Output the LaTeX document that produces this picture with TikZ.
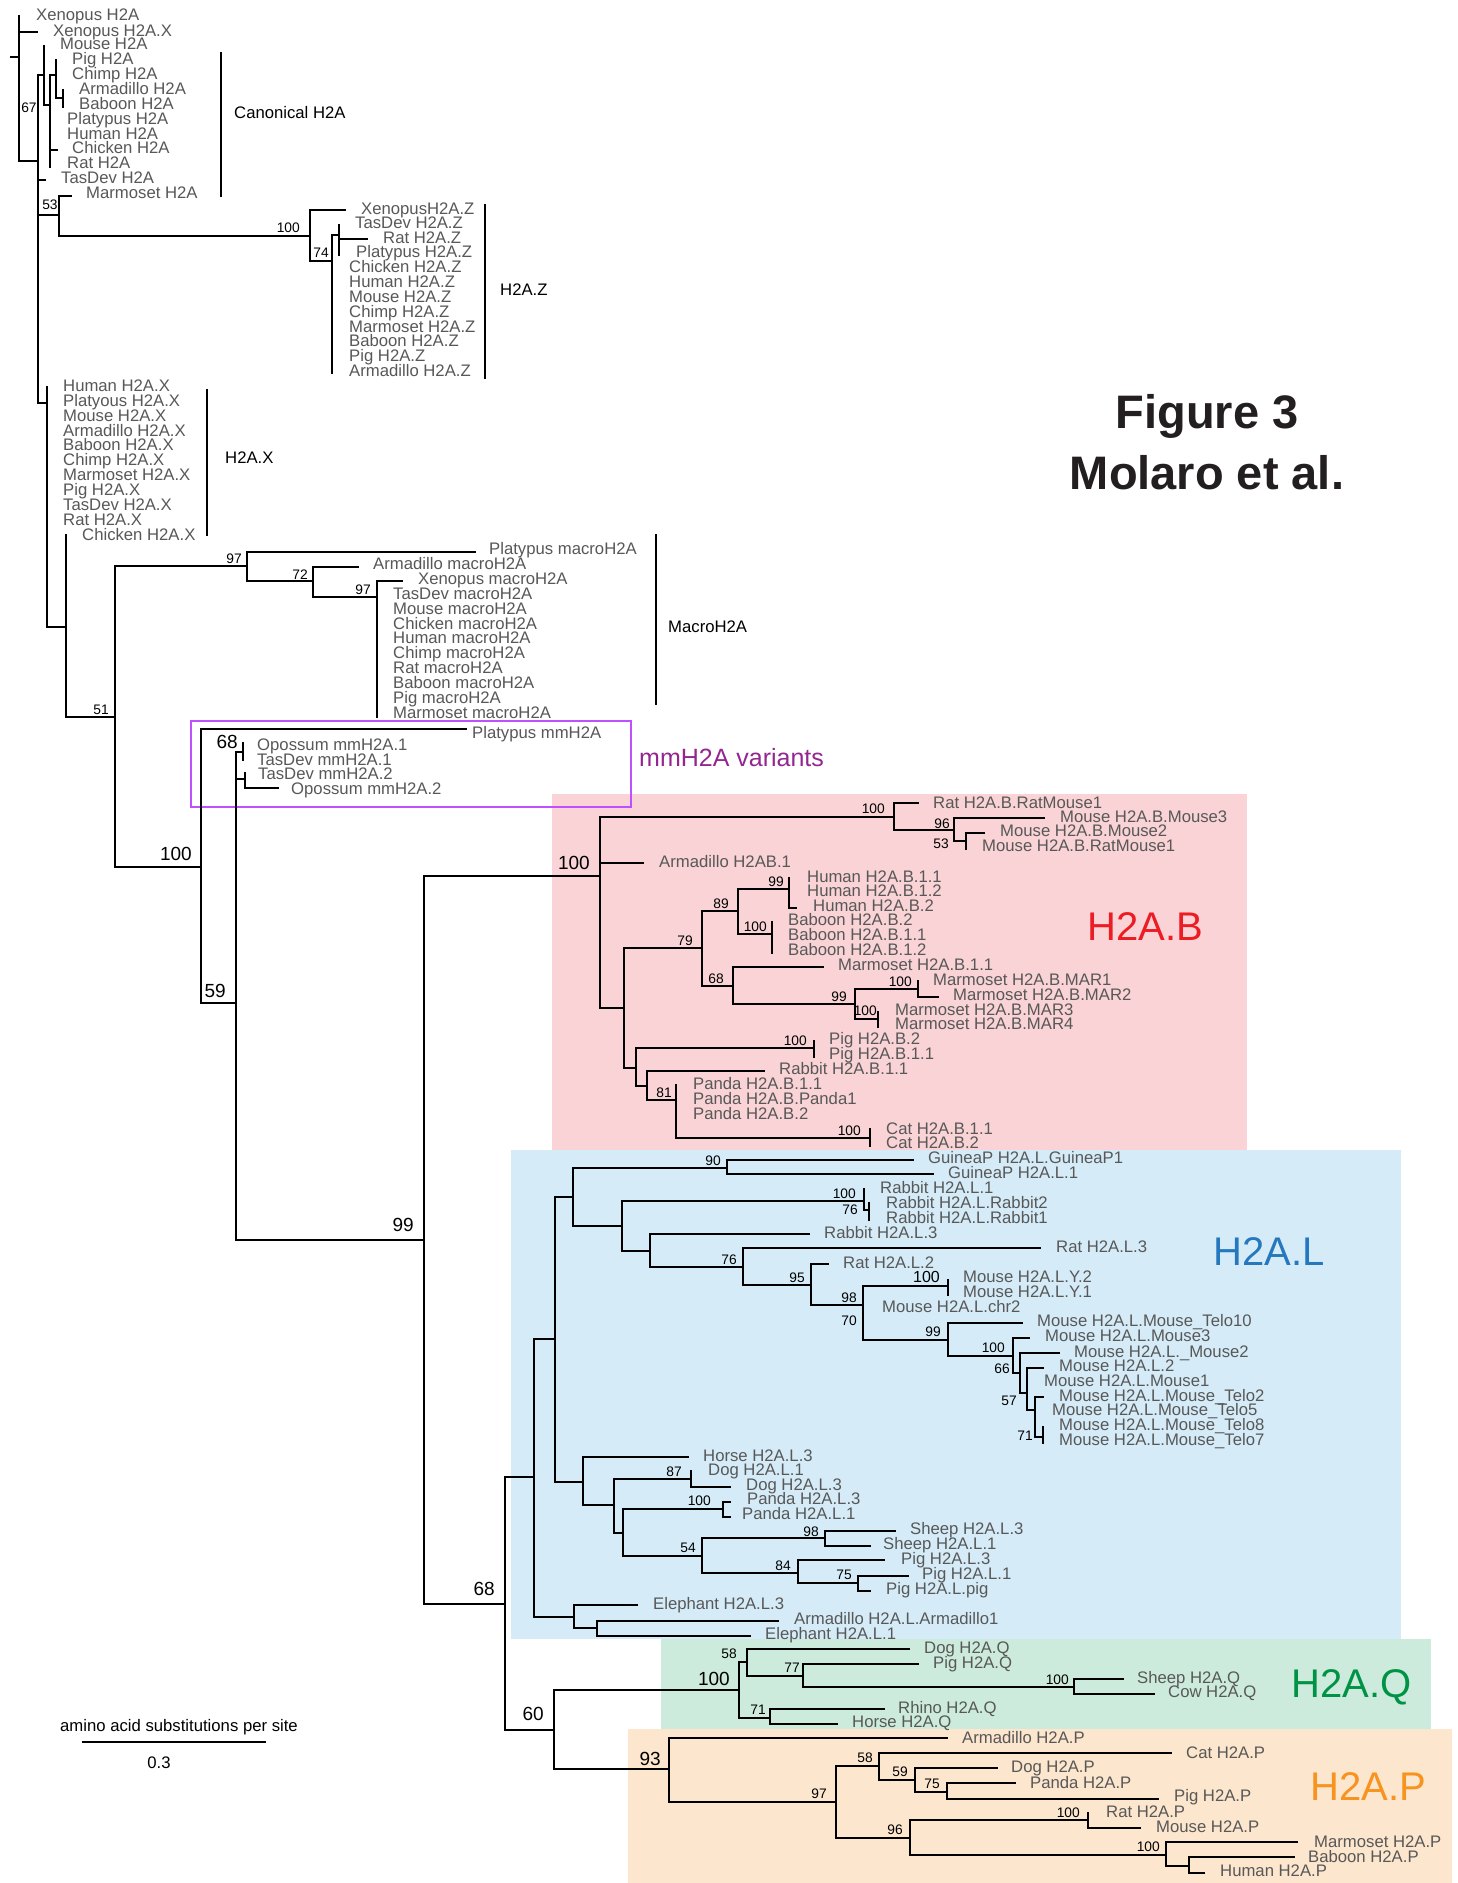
\documentclass[tikz,border=0pt]{standalone}
\usepackage{fontspec}
\setmainfont{Liberation Sans}
\definecolor{tipgray}{RGB}{88,88,88}
\definecolor{bgB}{RGB}{249,211,213}
\definecolor{bgL}{RGB}{213,236,248}
\definecolor{bgQ}{RGB}{205,235,220}
\definecolor{bgP}{RGB}{252,230,205}
\definecolor{colB}{RGB}{237,28,36}
\definecolor{colL}{RGB}{37,120,190}
\definecolor{colQ}{RGB}{0,146,69}
\definecolor{colP}{RGB}{247,147,30}
\definecolor{mmbox}{RGB}{190,80,255}
\definecolor{mmtext}{RGB}{147,39,143}
\definecolor{titlecol}{RGB}{35,31,32}
\tikzset{
  br/.style={line width=2.5pt, line cap=rect, black},
  brack/.style={line width=2.2pt, black},
  tiplab/.style={anchor=base west, inner sep=0pt, yshift=-6pt, text=tipgray, font=\fontsize{16.7}{18}\selectfont},
  bss/.style={anchor=south east, inner sep=0pt, text=black, font=\fontsize{13.8}{15}\selectfont},
  bsl/.style={anchor=south east, inner sep=0pt, text=black, font=\fontsize{19}{21}\selectfont},
  grp/.style={anchor=west, inner sep=0pt, text=black, font=\fontsize{16.7}{18}\selectfont},
  bigl/.style={anchor=west, inner sep=0pt, font=\fontsize{40}{44}\selectfont},
}
\newcommand\HB[3]{\draw[br] (#1,#3) -- (#2,#3);}
\newcommand\VB[3]{\draw[br] (#1,#2) -- (#1,#3);}
\newcommand\TL[3]{\node[tiplab] at (#1,#2) {#3};}
\newcommand\BS[3]{\node[bss] at (#1,#2) {#3};}
\newcommand\BL[3]{\node[bsl] at (#1,#2) {#3};}
\newcommand\BC[3]{\node[bss, anchor=center] at (#1,#2) {#3};}
\newcommand\BE[3]{\node[bss, anchor=east] at (#1,#2) {#3};}
\begin{document}
\begin{tikzpicture}[x=1pt,y=-1pt]
\useasboundingbox (0,0) rectangle (1458,1883);
\fill[white] (0,0) rectangle (1458,1883);
% backgrounds
\fill[bgB] (552,794) rectangle (1247,1150);
\fill[bgL] (511,1150) rectangle (1401,1639);
\fill[bgQ] (661,1639) rectangle (1431,1729);
\fill[bgP] (628,1729) rectangle (1452,1883);
\draw[mmbox, line width=2pt] (191,721) rectangle (631,807);
\node[anchor=west, inner sep=0pt, text=mmtext, font=\fontsize{25}{28}\selectfont] (mmlab) at (639,758) {mmH2A variants};
% big clade labels
\node[bigl, text=colB] (labB) at (1087,927) {H2A.B};
\node[bigl, text=colL] (labL) at (1213,1252) {H2A.L};
\node[bigl, text=colQ] (labQ) at (1291,1687) {H2A.Q};
\node[bigl, text=colP] (labP) at (1310,1787) {H2A.P};
% title
\node[inner sep=0pt, text=titlecol, font=\fontsize{47}{52}\bfseries\selectfont] (t1) at (1207,416) {Figure 3};
\node[inner sep=0pt, text=titlecol, font=\fontsize{47}{52}\bfseries\selectfont] (t2) at (1207,473) {Molaro et al.};
% group brackets and labels
\draw[brack] (221,52) -- (221,197);
\node[grp] (gcan) at (234,113) {Canonical H2A};
\draw[brack] (485,204) -- (485,379);
\node[grp] (gz) at (500,290) {H2A.Z};
\draw[brack] (207,389) -- (207,536);
\node[grp] (gx) at (225,458) {H2A.X};
\draw[brack] (656,534) -- (656,705);
\node[grp] (gm) at (668,627) {MacroH2A};
% scale bar
\node[inner sep=0pt, font=\fontsize{16.7}{18}\selectfont] (sbt) at (179,1727) {amino acid substitutions per site};
\draw[line width=1.8pt] (82,1742) -- (266,1742);
\node[inner sep=0pt, font=\fontsize{16.7}{18}\selectfont] (sbv) at (159,1763) {0.3};

% ===== canonical H2A =====
\HB{11}{19}{57}
\VB{19}{16}{161}
\HB{19}{37}{32}
\HB{19}{38}{161}
\VB{38}{75}{403}
\HB{38}{44}{75}
\VB{44}{46}{105}
\HB{44}{50}{105}
\VB{50}{75}{167}
\HB{50}{56}{75}
\VB{56}{60}{98}
\HB{56}{63}{98}
\VB{63}{90}{107}
\HB{50}{57}{150}
\HB{38}{45}{180}
\HB{38}{59}{215}
\VB{59}{196}{236}
\HB{59}{71}{196}
\BC{50}{205}{53}
\BC{29}{108}{67}
\TL{36}{14}{Xenopus H2A}
\TL{53}{30}{Xenopus H2A.X}
\TL{60}{43}{Mouse H2A}
\TL{72}{58}{Pig H2A}
\TL{72}{73}{Chimp H2A}
\TL{79}{88}{Armadillo H2A}
\TL{79}{103}{Baboon H2A}
\TL{67}{118}{Platypus H2A}
\TL{67}{133}{Human H2A}
\TL{72}{147}{Chicken H2A}
\TL{67}{162}{Rat H2A}
\TL{61}{177}{TasDev H2A}
\TL{86}{192}{Marmoset H2A}
% ===== H2A.Z =====
\HB{59}{310}{236}
\BS{300}{233}{100}
\VB{310}{210}{261}
\HB{310}{345}{210}
\HB{310}{332}{261}
\BS{329}{258}{74}
\VB{332}{235}{373}
\HB{332}{339}{235}
\VB{339}{225}{255}
\HB{339}{367}{239}
\TL{361}{208}{XenopusH2A.Z}
\TL{355}{222}{TasDev H2A.Z}
\TL{383}{237}{Rat H2A.Z}
\TL{356}{251}{Platypus H2A.Z}
\TL{349}{266}{Chicken H2A.Z}
\TL{349}{281}{Human H2A.Z}
\TL{349}{296}{Mouse H2A.Z}
\TL{349}{311}{Chimp H2A.Z}
\TL{349}{326}{Marmoset H2A.Z}
\TL{349}{340}{Baboon H2A.Z}
\TL{349}{355}{Pig H2A.Z}
\TL{349}{370}{Armadillo H2A.Z}
% ===== H2A.X =====
\HB{38}{47}{403}
\VB{47}{387}{627}
\HB{47}{66}{627}
\VB{66}{535}{717}
\HB{66}{115}{717}
\BS{109}{715}{51}
\TL{63}{385}{Human H2A.X}
\TL{63}{400}{Platyous H2A.X}
\TL{63}{415}{Mouse H2A.X}
\TL{63}{430}{Armadillo H2A.X}
\TL{63}{444}{Baboon H2A.X}
\TL{63}{459}{Chimp H2A.X}
\TL{63}{474}{Marmoset H2A.X}
\TL{63}{489}{Pig H2A.X}
\TL{63}{504}{TasDev H2A.X}
\TL{63}{519}{Rat H2A.X}
\TL{82}{534}{Chicken H2A.X}
% ===== macroH2A =====
\VB{115}{566}{867}
\HB{115}{247}{566}
\BS{242}{564}{97}
\VB{247}{552}{581}
\HB{247}{475}{552}
\HB{247}{313}{581}
\BS{308}{580}{72}
\VB{313}{567}{597}
\HB{313}{358}{567}
\HB{313}{377}{597}
\BS{371}{595}{97}
\VB{377}{581}{717}
\HB{377}{402}{581}
\TL{489}{548}{Platypus macroH2A}
\TL{373}{563}{Armadillo macroH2A}
\TL{418}{578}{Xenopus macroH2A}
\TL{393}{593}{TasDev macroH2A}
\TL{393}{608}{Mouse macroH2A}
\TL{393}{623}{Chicken macroH2A}
\TL{393}{637}{Human macroH2A}
\TL{393}{652}{Chimp macroH2A}
\TL{393}{667}{Rat macroH2A}
\TL{393}{682}{Baboon macroH2A}
\TL{393}{697}{Pig macroH2A}
\TL{393}{712}{Marmoset macroH2A}
% ===== mmH2A and backbone =====
\HB{115}{201}{867}
\BL{192}{861}{100}
\VB{201}{730}{1003}
\HB{201}{466}{729}
\HB{201}{236}{1003}
\BL{226}{998}{59}
\VB{236}{752}{1240}
\HB{236}{243}{752}
\VB{243}{743}{760}
\BL{238}{749}{68}
\HB{236}{245}{779}
\VB{245}{773}{788}
\HB{245}{278}{788}
\TL{472}{732}{Platypus mmH2A}
\TL{257}{744}{Opossum mmH2A.1}
\TL{257}{759}{TasDev mmH2A.1}
\TL{258}{773}{TasDev mmH2A.2}
\TL{291}{788}{Opossum mmH2A.2}
\HB{236}{424}{1240}
\BL{414}{1232}{99}
\VB{424}{876}{1604}
\HB{424}{600}{876}
\BL{590}{870}{100}
\HB{424}{505}{1604}
\BL{495}{1596}{68}
\VB{505}{1477}{1730}
\HB{505}{534}{1477}
\HB{505}{554}{1730}
\BL{544}{1721}{60}
% ===== H2A.B =====
\VB{600}{817}{1008}
\HB{600}{894}{817}
\BS{885}{814}{100}
\VB{894}{803}{830}
\HB{894}{918}{803}
\HB{894}{954}{830}
\BS{950}{829}{96}
\VB{954}{818}{841}
\HB{954}{1044}{818}
\HB{954}{966}{841}
\BC{941}{844}{53}
\VB{966}{833}{849}
\HB{966}{984}{833}
\HB{600}{643}{863}
\HB{600}{624}{1008}
\VB{624}{948}{1068}
\HB{624}{702}{948}
\BS{693}{946}{79}
\VB{702}{911}{986}
\HB{702}{738}{911}
\BS{729}{909}{89}
\VB{738}{889}{934}
\HB{738}{789}{889}
\BS{784}{887}{99}
\VB{789}{878}{908}
\HB{789}{796}{908}
\HB{738}{772}{934}
\BS{767}{932}{100}
\VB{772}{922}{953}
\HB{702}{733}{986}
\BS{724}{984}{68}
\VB{733}{967}{1004}
\HB{733}{823}{967}
\HB{733}{855}{1004}
\BS{847}{1002}{99}
\VB{855}{989}{1019}
\HB{855}{918}{989}
\BS{912}{987}{100}
\VB{918}{981}{997}
\HB{918}{938}{997}
\HB{855}{878}{1019}
\BS{877}{1016}{100}
\VB{878}{1012}{1027}
\HB{624}{636}{1068}
\VB{636}{1048}{1086}
\HB{636}{814}{1048}
\BS{807}{1046}{100}
\VB{814}{1041}{1057}
\HB{636}{647}{1086}
\VB{647}{1071}{1100}
\HB{647}{764}{1071}
\HB{647}{676}{1100}
\BS{672}{1098}{81}
\VB{676}{1085}{1138}
\HB{676}{870}{1138}
\BS{861}{1136}{100}
\VB{870}{1129}{1146}
\TL{933}{802}{Rat H2A.B.RatMouse1}
\TL{1060}{816}{Mouse H2A.B.Mouse3}
\TL{1000}{830}{Mouse H2A.B.Mouse2}
\TL{982}{845}{Mouse H2A.B.RatMouse1}
\TL{659}{861}{Armadillo H2AB.1}
\TL{807}{876}{Human H2A.B.1.1}
\TL{807}{890}{Human H2A.B.1.2}
\TL{813}{905}{Human H2A.B.2}
\TL{788}{919}{Baboon H2A.B.2}
\TL{788}{934}{Baboon H2A.B.1.1}
\TL{788}{949}{Baboon H2A.B.1.2}
\TL{838}{964}{Marmoset H2A.B.1.1}
\TL{933}{979}{Marmoset H2A.B.MAR1}
\TL{953}{994}{Marmoset H2A.B.MAR2}
\TL{895}{1009}{Marmoset H2A.B.MAR3}
\TL{895}{1023}{Marmoset H2A.B.MAR4}
\TL{829}{1038}{Pig H2A.B.2}
\TL{829}{1053}{Pig H2A.B.1.1}
\TL{779}{1068}{Rabbit H2A.B.1.1}
\TL{693}{1083}{Panda H2A.B.1.1}
\TL{693}{1098}{Panda H2A.B.Panda1}
\TL{693}{1113}{Panda H2A.B.2}
\TL{886}{1128}{Cat H2A.B.1.1}
\TL{886}{1142}{Cat H2A.B.2}
% ===== H2A.L =====
\VB{534}{1339}{1617}
\HB{534}{555}{1339}
\VB{555}{1197}{1482}
\HB{555}{573}{1197}
\VB{573}{1168}{1226}
\HB{573}{727}{1168}
\BS{721}{1166}{90}
\VB{727}{1160}{1174}
\HB{727}{913}{1160}
\HB{727}{933}{1174}
\HB{573}{622}{1226}
\VB{622}{1201}{1251}
\HB{622}{864}{1201}
\BS{856}{1199}{100}
\VB{864}{1189}{1210}
\HB{864}{869}{1210}
\BE{858}{1210}{76}
\VB{869}{1203}{1220}
\HB{622}{650}{1251}
\VB{650}{1234}{1267}
\HB{650}{809}{1234}
\HB{650}{743}{1267}
\BS{737}{1265}{76}
\VB{743}{1248}{1285}
\HB{743}{1040}{1248}
\HB{743}{811}{1285}
\BS{805}{1283}{95}
\VB{811}{1264}{1305}
\HB{811}{828}{1264}
\HB{811}{863}{1305}
\BS{857}{1303}{98}
\VB{863}{1286}{1340}
\HB{863}{948}{1286}
\node[bss, font=\fontsize{16}{18}\selectfont] at (940,1283) {100};
\VB{948}{1280}{1295}
\BE{857}{1321}{70}
\HB{863}{948}{1340}
\BS{941}{1337}{99}
\VB{948}{1323}{1356}
\HB{948}{1022}{1323}
\HB{948}{1013}{1356}
\BS{1005}{1353}{100}
\VB{1013}{1338}{1373}
\HB{1013}{1029}{1338}
\HB{1013}{1020}{1373}
\BE{1010}{1369}{66}
\VB{1020}{1353}{1393}
\HB{1020}{1059}{1353}
\HB{1020}{1027}{1393}
\BE{1017}{1401}{57}
\VB{1027}{1368}{1410}
\HB{1027}{1043}{1368}
\HB{1027}{1035}{1410}
\VB{1035}{1397}{1437}
\HB{1035}{1043}{1397}
\HB{1035}{1043}{1437}
\BE{1033}{1436}{71}
\VB{1043}{1427}{1443}
\TL{928}{1157}{GuineaP H2A.L.GuineaP1}
\TL{948}{1172}{GuineaP H2A.L.1}
\TL{880}{1187}{Rabbit H2A.L.1}
\TL{886}{1202}{Rabbit H2A.L.Rabbit2}
\TL{886}{1217}{Rabbit H2A.L.Rabbit1}
\TL{824}{1232}{Rabbit H2A.L.3}
\TL{1056}{1246}{Rat H2A.L.3}
\TL{843}{1262}{Rat H2A.L.2}
\TL{963}{1276}{Mouse H2A.L.Y.2}
\TL{963}{1291}{Mouse H2A.L.Y.1}
\TL{882}{1306}{Mouse H2A.L.chr2}
\TL{1037}{1320}{Mouse H2A.L.Mouse\_Telo10}
\TL{1045}{1335}{Mouse H2A.L.Mouse3}
\TL{1074}{1351}{Mouse H2A.L.\_Mouse2}
\TL{1059}{1365}{Mouse H2A.L.2}
\TL{1044}{1380}{Mouse H2A.L.Mouse1}
\TL{1059}{1395}{Mouse H2A.L.Mouse\_Telo2}
\TL{1052}{1409}{Mouse H2A.L.Mouse\_Telo5}
\TL{1059}{1424}{Mouse H2A.L.Mouse\_Telo8}
\TL{1059}{1439}{Mouse H2A.L.Mouse\_Telo7}
% lower H2A.L
\HB{555}{583}{1482}
\VB{583}{1457}{1505}
\HB{583}{688}{1457}
\HB{583}{614}{1505}
\VB{614}{1479}{1533}
\HB{614}{691}{1479}
\BS{682}{1477}{87}
\VB{691}{1471}{1487}
\HB{691}{730}{1487}
\HB{614}{623}{1533}
\VB{623}{1509}{1556}
\HB{623}{723}{1509}
\BS{711}{1506}{100}
\VB{723}{1502}{1517}
\HB{723}{730}{1502}
\HB{723}{730}{1517}
\HB{623}{702}{1556}
\BS{696}{1553}{54}
\VB{702}{1538}{1573}
\HB{702}{825}{1538}
\BS{819}{1537}{98}
\VB{825}{1531}{1546}
\HB{825}{895}{1531}
\HB{825}{870}{1546}
\HB{702}{798}{1573}
\BS{791}{1571}{84}
\VB{798}{1560}{1583}
\HB{798}{884}{1560}
\HB{798}{858}{1583}
\BS{852}{1580}{75}
\VB{858}{1576}{1591}
\HB{858}{908}{1576}
\HB{858}{870}{1591}
\HB{534}{574}{1617}
\VB{574}{1605}{1628}
\HB{574}{637}{1605}
\HB{574}{597}{1628}
\VB{597}{1621}{1636}
\HB{597}{778}{1621}
\HB{597}{750}{1636}
\TL{703}{1455}{Horse H2A.L.3}
\TL{708}{1469}{Dog H2A.L.1}
\TL{746}{1484}{Dog H2A.L.3}
\TL{747}{1498}{Panda H2A.L.3}
\TL{742}{1513}{Panda H2A.L.1}
\TL{910}{1528}{Sheep H2A.L.3}
\TL{883}{1543}{Sheep H2A.L.1}
\TL{901}{1558}{Pig H2A.L.3}
\TL{922}{1573}{Pig H2A.L.1}
\TL{886}{1588}{Pig H2A.L.pig}
\TL{653}{1603}{Elephant H2A.L.3}
\TL{794}{1618}{Armadillo H2A.L.Armadillo1}
\TL{765}{1633}{Elephant H2A.L.1}
% ===== H2A.Q =====
\VB{554}{1690}{1769}
\HB{554}{739}{1690}
\BL{730}{1686}{100}
\VB{739}{1662}{1718}
\HB{739}{747}{1662}
\BS{737}{1659}{58}
\VB{747}{1649}{1676}
\HB{747}{909}{1649}
\HB{747}{803}{1676}
\BS{800}{1673}{77}
\VB{803}{1664}{1687}
\HB{803}{918}{1664}
\HB{803}{1074}{1687}
\BS{1069}{1685}{100}
\VB{1074}{1679}{1694}
\HB{1074}{1123}{1679}
\HB{1074}{1154}{1694}
\HB{739}{770}{1718}
\BS{766}{1715}{71}
\VB{770}{1709}{1724}
\HB{770}{884}{1709}
\HB{770}{837}{1724}
\TL{924}{1647}{Dog H2A.Q}
\TL{933}{1662}{Pig H2A.Q}
\TL{1137}{1677}{Sheep H2A.Q}
\TL{1168}{1691}{Cow H2A.Q}
\TL{898}{1707}{Rhino H2A.Q}
\TL{852}{1721}{Horse H2A.Q}
% ===== H2A.P =====
\HB{554}{669}{1769}
\BL{661}{1766}{93}
\VB{669}{1738}{1802}
\HB{669}{947}{1738}
\HB{669}{836}{1802}
\BS{827}{1799}{97}
\VB{836}{1766}{1838}
\HB{836}{879}{1766}
\BS{873}{1763}{58}
\VB{879}{1753}{1780}
\HB{879}{1171}{1753}
\HB{879}{915}{1780}
\BS{908}{1777}{59}
\VB{915}{1768}{1792}
\HB{915}{997}{1768}
\HB{915}{947}{1792}
\BS{940}{1789}{75}
\VB{947}{1783}{1799}
\HB{947}{1015}{1783}
\HB{947}{1158}{1799}
\HB{836}{910}{1838}
\BS{903}{1835}{96}
\VB{910}{1820}{1855}
\HB{910}{1088}{1820}
\BS{1080}{1818}{100}
\VB{1088}{1813}{1828}
\HB{1088}{1140}{1828}
\HB{910}{1166}{1855}
\BS{1160}{1852}{100}
\VB{1166}{1842}{1866}
\HB{1166}{1297}{1842}
\HB{1166}{1189}{1866}
\VB{1189}{1857}{1873}
\HB{1189}{1294}{1857}
\HB{1189}{1204}{1873}
\TL{962}{1737}{Armadillo H2A.P}
\TL{1186}{1752}{Cat H2A.P}
\TL{1011}{1766}{Dog H2A.P}
\TL{1030}{1782}{Panda H2A.P}
\TL{1174}{1795}{Pig H2A.P}
\TL{1106}{1811}{Rat H2A.P}
\TL{1156}{1826}{Mouse H2A.P}
\TL{1314}{1841}{Marmoset H2A.P}
\TL{1308}{1856}{Baboon H2A.P}
\TL{1220}{1870}{Human H2A.P}
\end{tikzpicture}
\end{document}
